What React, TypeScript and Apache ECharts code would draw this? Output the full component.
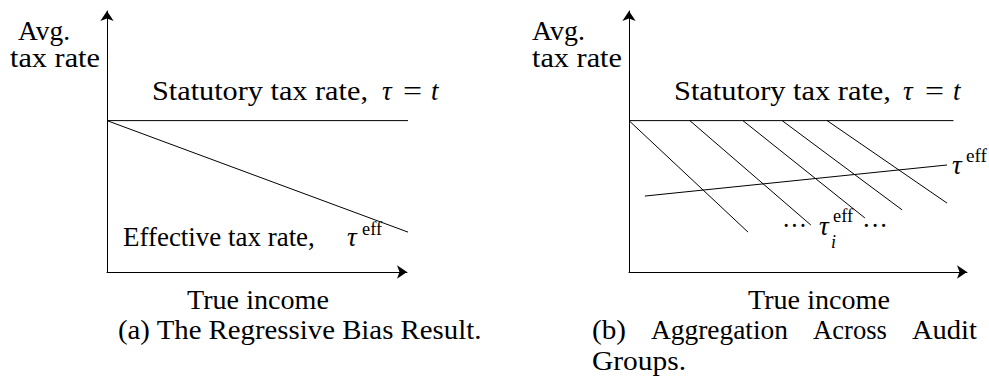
import React, { useEffect, useRef } from "react";
import * as echarts from "echarts";

// ---- data (axis units: x 0..100, y 0..100) ----
const statutoryA = [[0, 58], [101, 58]];
const effectiveA = [[0, 58], [101, 15]];
const statutoryB = [[0, 58], [96, 58]];
const groupStarts = [[0, 58], [18, 58], [33.7, 58], [45.3, 58], [58.6, 58]];
const groupEnds = [[35.2, 15.3], [53.8, 18], [69.8, 20.7], [80.8, 23.8], [94.1, 26.4]];
const aggregateB = [[4.7, 29.1], [94.1, 41]];

// ---- texts ----
const yTitle = ["Avg.", "tax rate"];
const statutoryLabel = "Statutory tax rate,";
const effectiveLabel = "Effective tax rate,";
const xTitle = "True income";
const captionA = "(a) The Regressive Bias Result.";
const captionB = ["(b)", "Aggregation", "Across", "Audit"];
const captionB2 = "Groups.";
const TAU = "τ";
const SUP = "eff";
const DOTS = "···";

const FAMILY = "Liberation Serif";

let ctx: CanvasRenderingContext2D | null = null;
function measure(s: string, font: string) {
  if (!ctx) ctx = document.createElement("canvas").getContext("2d");
  ctx!.font = font;
  return ctx!.measureText(s).width;
}

function txt(s: string, left: number, base: number, o: { size?: number; italic?: boolean; width?: number } = {}) {
  const size = o.size ?? 27;
  const style = o.italic ? "italic" : "normal";
  const font = `${style} ${size}px "${FAMILY}"`;
  let sx = 1;
  if (o.width) sx = o.width / measure(s, font);
  return {
    type: "text",
    x: left,
    y: base - 0.3375 * size,
    scaleX: sx,
    silent: true,
    style: {
      text: s,
      x: 0,
      y: 0,
      fontSize: size,
      fontFamily: FAMILY,
      fontStyle: style,
      fill: "#000",
      align: "left",
      verticalAlign: "middle",
    },
  };
}

function seg(data: number[][], gi: number) {
  return {
    type: "line",
    xAxisIndex: gi,
    yAxisIndex: gi,
    data,
    symbol: "none",
    silent: true,
    clip: false,
    lineStyle: { color: "#000", width: 1 },
  };
}

function axis(gi: number) {
  return {
    type: "value",
    gridIndex: gi,
    min: 0,
    max: 100,
    axisLine: {
      show: true,
      onZero: false,
      symbol: ["none", "arrow"],
      symbolSize: [10, 10],
      lineStyle: { color: "#000", width: 1 },
    },
    axisTick: { show: false },
    axisLabel: { show: false },
    splitLine: { show: false },
  };
}

export default function App() {
  const ref = useRef<HTMLDivElement>(null);
  useEffect(() => {
    const chart = echarts.init(ref.current!, null, { renderer: "svg" });
    const series: any[] = [
      seg(statutoryA, 0),
      seg(effectiveA, 0),
      seg(statutoryB, 1),
      ...groupStarts.map((s, i) => seg([s, groupEnds[i]], 1)),
      seg(aggregateB, 1),
    ];
    const graphic: any[] = [
      // panel (a)
      txt(yTitle[0], 18, 40, { width: 52 }),
      txt(yTitle[1], 10, 67, { width: 90 }),
      txt(statutoryLabel, 152, 100, { width: 216 }),
      txt(TAU, 382, 100, { italic: true }),
      txt("=", 403, 100, { width: 19 }),
      txt("t", 431, 100, { italic: true }),
      txt(effectiveLabel, 123, 246, { width: 192 }),
      txt(TAU, 347, 246, { italic: true }),
      txt(SUP, 362, 235, { size: 18, width: 20 }),
      txt(xTitle, 187, 309, { width: 142 }),
      txt(captionA, 118, 339, { width: 364 }),
      // panel (b)
      txt(yTitle[0], 532, 40, { width: 53 }),
      txt(yTitle[1], 532, 67, { width: 90 }),
      txt(statutoryLabel, 674, 100, { width: 217 }),
      txt(TAU, 903, 100, { italic: true }),
      txt("=", 925, 100, { width: 19 }),
      txt("t", 953, 100, { italic: true }),
      txt(TAU, 952, 174, { italic: true }),
      txt(SUP, 966, 162, { size: 18, width: 21 }),
      txt(DOTS, 782, 235, { width: 25 }),
      txt(TAU, 819, 235, { italic: true }),
      txt(SUP, 833, 222, { size: 18, width: 20 }),
      txt("i", 831, 248, { size: 18, italic: true }),
      txt(DOTS, 862, 235, { width: 26 }),
      txt(xTitle, 748, 309, { width: 142 }),
      txt(captionB[0], 592, 339, { width: 34 }),
      txt(captionB[1], 651, 339, { width: 137 }),
      txt(captionB[2], 813, 339, { width: 74 }),
      txt(captionB[3], 912, 339, { width: 65 }),
      txt(captionB2, 592, 370, { width: 94 }),
    ];
    chart.setOption({
      animation: false,
      backgroundColor: "#fff",
      grid: [
        { left: 107, top: 11, width: 300, height: 261 },
        { left: 629, top: 11, width: 338, height: 261 },
      ],
      xAxis: [axis(0), axis(1)],
      yAxis: [axis(0), axis(1)],
      series,
      graphic,
    });
    return () => chart.dispose();
  }, []);
  return (
    <div
      ref={ref}
      style={{ position: "fixed", left: 0, top: 0, width: 989, height: 381, background: "#fff" }}
    />
  );
}
